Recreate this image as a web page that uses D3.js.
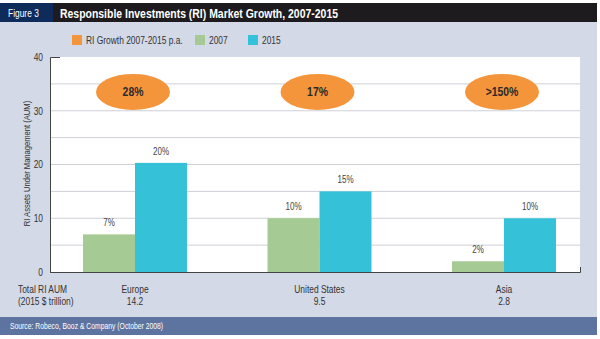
<!DOCTYPE html>
<html>
<head>
<meta charset="utf-8">
<script src="https://cdn.jsdelivr.net/npm/d3@7"></script>
<style>
  body { margin: 0; background: #fff; }
  svg text { font-family: "Liberation Sans", Arial, sans-serif; }
</style>
</head>
<body>
<div id="chart"></div>
<script>
// data
var regions = ["Europe", "United States", "Asia"];
var totals = ["14.2", "9.5", "2.8"];
var growth = ["28%", "17%", ">150%"];
var values2007 = [7, 10, 2];
var values2015 = [20.3, 15, 10];
var labels2007 = ["7%", "10%", "2%"];
var labels2015 = ["20%", "15%", "10%"];
var yTicks = [0, 10, 20, 30, 40];
var gridValues = [5, 10, 15, 20, 25, 30, 35];
var growthLevel = 33.5;

var svgWidth = 600;
var svgHeight = 339;

var margin = { top: 57, right: 20, bottom: 67, left: 50 };
var width = svgWidth - margin.left - margin.right;   // 530
var height = svgHeight - margin.top - margin.bottom; // 215

var svg = d3.select("#chart")
    .append("svg")
    .attr("width", svgWidth)
    .attr("height", svgHeight);

// BACKGROUND + BARS OF THE FRAME
//=====================
svg.append("rect").attr("x", 0).attr("y", 3).attr("width", 597).attr("height", 332).attr("fill", "#d4d9e7");
svg.append("rect").attr("x", 0).attr("y", 3).attr("width", 597).attr("height", 19).attr("fill", "#1d1b1e");
svg.append("rect").attr("x", 0).attr("y", 3).attr("width", 53).attr("height", 19).attr("fill", "#0f2b5b");
svg.append("text").attr("x", 8).attr("y", 16.5).attr("fill", "#fff").attr("font-size", 10.5).text("Figure 3");
svg.append("text").attr("class", "title").attr("x", 60).attr("y", 17.5).attr("fill", "#fff").attr("font-size", 13.5)
    .attr("font-weight", "700").text("Responsible Investments (RI) Market Growth, 2007-2015");

svg.append("rect").attr("x", 0).attr("y", 317).attr("width", 597).attr("height", 18).attr("fill", "#5e74a0");
svg.append("text").attr("x", 10).attr("y", 329).attr("fill", "#fff").attr("font-size", 8.5)
    .text("Source: Robeco, Booz & Company (October 2008)");

var chartGroup = svg.append("g")
    .attr("transform", `translate(${margin.left}, ${margin.top})`);

chartGroup.append("rect").attr("width", width).attr("height", height).attr("fill", "#fff");

/// SCALES
//=====================
var yLinearScale = d3.scaleLinear().domain([0, 40]).range([height, 0]);
var xPoint = d3.scalePoint().domain(regions).range([85, 454]);
var barWidth = 52;

// GRID
chartGroup.append("g").selectAll("line")
    .data(gridValues)
    .enter()
    .append("line")
    .attr("x1", 0)
    .attr("x2", width)
    .attr("y1", d => yLinearScale(d))
    .attr("y2", d => yLinearScale(d))
    .attr("stroke", "#cfd0d6")
    .attr("stroke-width", 1);

/// LEGEND
//=====================
var legendItems = [
    { label: "RI Growth 2007-2015 p.a.", color: "#f4953b", x: 72 },
    { label: "2007", color: "#a6ca93", x: 195 },
    { label: "2015", color: "#35c2d8", x: 248 }
];
var legend = svg.append("g").selectAll("g")
    .data(legendItems)
    .enter()
    .append("g")
    .attr("transform", d => `translate(${d.x}, 35)`);
legend.append("rect").attr("width", 10).attr("height", 10).attr("fill", d => d.color);
legend.append("text").attr("x", 14).attr("y", 9).attr("font-size", 10.5).attr("fill", "#333").text(d => d.label);

/// BARS
//=====================
chartGroup.append("g").selectAll("rect")
    .data(values2007)
    .enter()
    .append("rect")
    .attr("x", (d, i) => xPoint(regions[i]) - barWidth)
    .attr("y", d => yLinearScale(d))
    .attr("width", barWidth)
    .attr("height", d => height - yLinearScale(d))
    .attr("fill", "#a6ca93");

chartGroup.append("g").selectAll("rect")
    .data(values2015)
    .enter()
    .append("rect")
    .attr("x", (d, i) => xPoint(regions[i]))
    .attr("y", d => yLinearScale(d))
    .attr("width", barWidth)
    .attr("height", d => height - yLinearScale(d))
    .attr("fill", "#35c2d8");

// VALUE LABELS
chartGroup.append("g").selectAll("text")
    .data(values2007)
    .enter()
    .append("text")
    .attr("x", (d, i) => xPoint(regions[i]) - barWidth / 2)
    .attr("y", d => yLinearScale(d) - 8)
    .attr("text-anchor", "middle")
    .attr("font-size", 10)
    .attr("fill", "#444")
    .text((d, i) => labels2007[i]);

chartGroup.append("g").selectAll("text")
    .data(values2015)
    .enter()
    .append("text")
    .attr("x", (d, i) => xPoint(regions[i]) + barWidth / 2)
    .attr("y", d => yLinearScale(d) - 8)
    .attr("text-anchor", "middle")
    .attr("font-size", 10)
    .attr("fill", "#444")
    .text((d, i) => labels2015[i]);

// GROWTH ELLIPSES
var bubbles = chartGroup.append("g").selectAll("g")
    .data(growth)
    .enter()
    .append("g")
    .attr("transform", (d, i) => `translate(${xPoint(regions[i]) - 2}, ${yLinearScale(growthLevel)})`);
bubbles.append("ellipse").attr("rx", 37).attr("ry", 18).attr("fill", "#f4953b");
bubbles.append("text")
    .attr("y", 4.5)
    .attr("text-anchor", "middle")
    .attr("font-size", 13)
    .attr("font-weight", "700")
    .attr("fill", "#2a2a2a")
    .text(d => d);

/// AXES
//=====================
var yAxis = d3.axisLeft(yLinearScale).tickValues(yTicks).tickSize(0).tickSizeOuter(-10).tickPadding(7);
var yAxisG = chartGroup.append("g").call(yAxis);
yAxisG.select(".domain").attr("stroke", "#444");
yAxisG.selectAll("text").attr("font-size", 10.5).attr("fill", "#333")
    .style("font-family", "'Liberation Sans', Arial, sans-serif");

var xLine = d3.scaleLinear().domain([0, 1]).range([0, width]);
var xAxisG = chartGroup.append("g")
    .attr("transform", `translate(0, ${height})`)
    .call(d3.axisBottom(xLine).tickValues([]).tickSizeOuter(-5));
xAxisG.select(".domain").attr("stroke", "#444");

// AXIS LABEL
chartGroup.append("text")
    .attr("transform", "rotate(-90)")
    .attr("x", 0 - (height / 2) + 1)
    .attr("y", -20)
    .attr("text-anchor", "middle")
    .attr("font-size", 9.5)
    .attr("fill", "#333")
    .text("RI Assets Under Management (AUM)");

// CATEGORY LABELS
var cat = chartGroup.append("g").selectAll("g")
    .data(regions)
    .enter()
    .append("g")
    .attr("transform", d => `translate(${xPoint(d)}, ${height})`);
cat.append("text").attr("y", 21).attr("text-anchor", "middle").attr("font-size", 10.5).attr("fill", "#333").text(d => d);
cat.append("text").attr("y", 33).attr("text-anchor", "middle").attr("font-size", 10.5).attr("fill", "#333")
    .text((d, i) => totals[i]);

chartGroup.append("text").attr("x", -32).attr("y", height + 21).attr("font-size", 10.5).attr("fill", "#333").text("Total RI AUM");
chartGroup.append("text").attr("x", -32).attr("y", height + 33).attr("font-size", 10.5).attr("fill", "#333").text("(2015 $ trillion)");

// the original uses a condensed face: squeeze every label horizontally
svg.selectAll("text").each(function() {
    var len = this.getComputedTextLength();
    var k = d3.select(this).classed("title") ? 278 / len : 0.8;
    d3.select(this)
        .attr("textLength", len * k)
        .attr("lengthAdjust", "spacingAndGlyphs");
});
</script>
</body>
</html>
